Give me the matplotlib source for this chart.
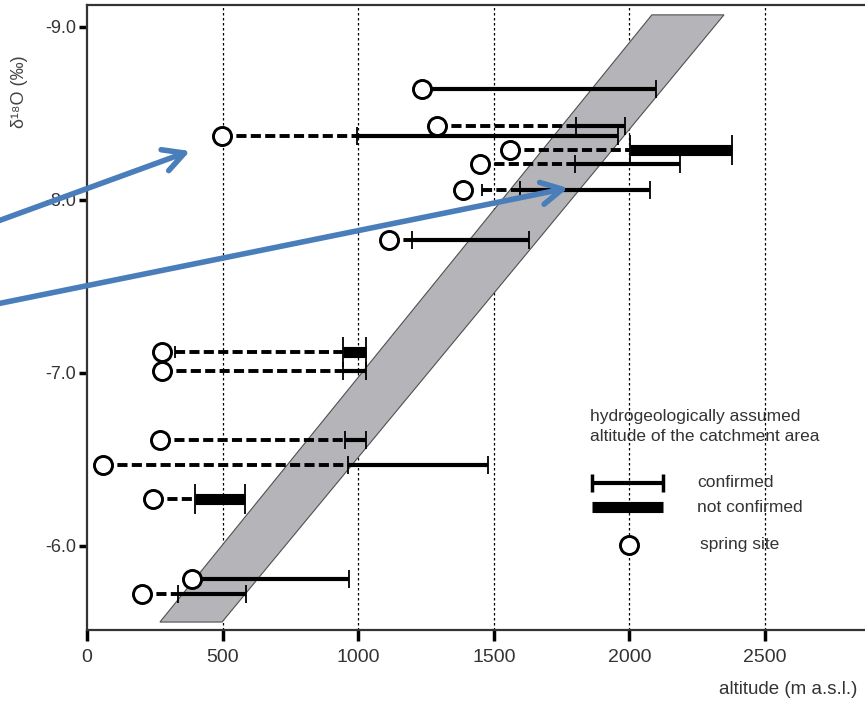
import numpy as np
import matplotlib.pyplot as plt
from matplotlib.patches import Polygon

plt.rcParams['font.family'] = ['Liberation Sans', 'DejaVu Sans']

# spring sites: altitude (m a.s.l.) and delta 18O (permil)
spring_alt = [1235, 1291, 498, 1560, 1449, 1386, 1114, 277, 277, 269, 59, 243, 387, 203]
spring_d18o = [-8.64, -8.43, -8.37, -8.29, -8.21, -8.06, -7.77, -7.12, -7.01, -6.61, -6.47, -6.27, -5.81, -5.72]

# dashed part (circle towards catchment), None where absent
dash_from = [None, 1291, 498, 1560, 1449, 1457, 1114, 325, 277, 269, 59, 243, None, 203]
dash_to = [None, 1805, 995, 2002, 1800, 1597, 1200, 944, 944, 951, 962, 398, None, 336]

# hydrogeologically assumed catchment altitude
catch_from = [1235, 1805, 995, 2002, 1800, 1597, 1200, 944, 944, 951, 962, 398, 387, 336]
catch_to = [2098, 1985, 1958, 2378, 2187, 2076, 1630, 1029, 1029, 1029, 1479, 583, 966, 586]
confirmed = [True, True, True, False, True, True, True, False, True, True, True, False, True, True]

# grey band
band_alt = [269, 498, 2349, 2083]
band_d18o = [-5.56, -5.56, -9.07, -9.07]

fig = plt.figure(figsize=(8.65, 7.01), dpi=100)
ax = fig.add_axes([87 / 865, 1 - 630 / 701, 1 - 87 / 865, 625 / 701])

ax.set_xlim(0, 2869)
ax.set_ylim(-5.514, -9.127)

band = Polygon(np.column_stack([band_alt, band_d18o]), closed=True,
               facecolor='#b5b5b9', edgecolor='#505050', lw=0.8, zorder=1)
ax.add_patch(band)

for gx in [500, 1000, 1500, 2000, 2500]:
    ax.axvline(gx, color='black', lw=0.9, ls=(0, (2, 2)), zorder=0.5)

for i in range(len(spring_alt)):
    y = spring_d18o[i]
    if dash_from[i] is not None:
        ax.plot([dash_from[i], dash_to[i]], [y, y], color='black', lw=2.8,
                ls=(0, (2.6, 1.1)), zorder=3, solid_capstyle='butt', dash_capstyle='butt')
        if dash_from[i] > spring_alt[i]:
            ax.plot([dash_from[i]], [y], marker='|', color='black', ms=9, mew=1.3, zorder=3)
    if confirmed[i]:
        ax.plot([catch_from[i], catch_to[i]], [y, y], color='black', lw=3.0,
                solid_capstyle='butt', zorder=3)
        tick = 13
    else:
        ax.plot([catch_from[i], catch_to[i]], [y, y], color='black', lw=8,
                solid_capstyle='butt', zorder=3)
        tick = 22
    ax.plot([catch_from[i], catch_to[i]], [y, y], ls='none', marker='|',
            color='black', ms=tick, mew=1.3, zorder=3)

ax.plot(spring_alt, spring_d18o, ls='none', marker='o', ms=13,
        mfc='white', mec='black', mew=2.1, zorder=5)

# legend drawn by hand
ax.text(1855, -6.69, 'hydrogeologically assumed\naltitude of the catchment area',
        fontsize=12.5, color='#333333', va='center', ha='left', linespacing=1.45)
ax.plot([1862, 2125], [-6.364, -6.364], color='black', lw=3.0, solid_capstyle='butt')
ax.plot([1862, 2125], [-6.364, -6.364], ls='none', marker='|', color='black', ms=13, mew=2.5)
ax.plot([1862, 2125], [-6.225, -6.225], color='black', lw=8, solid_capstyle='butt')
ax.plot([2000], [-6.006], ls='none', marker='o', ms=13, mfc='white', mec='black', mew=2.1)
ax.text(2249, -6.364, 'confirmed', fontsize=12.5, color='#333333', va='center')
ax.text(2249, -6.225, 'not confirmed', fontsize=12.5, color='#333333', va='center')
ax.text(2260, -6.006, 'spring site', fontsize=12.5, color='#333333', va='center')

ax.set_xticks([0, 500, 1000, 1500, 2000, 2500])
ax.set_yticks([-9.0, -8.0, -7.0, -6.0])
ax.set_yticklabels(['-9.0', '-8.0', '-7.0', '-6.0'])
ax.tick_params(axis='x', direction='out', length=8, width=2.5, labelsize=14,
               labelcolor='#333333', pad=6)
ax.tick_params(axis='y', direction='out', length=6, width=2.5, labelsize=13,
               labelcolor='#333333', pad=2)

for side in ['left', 'bottom', 'top']:
    ax.spines[side].set_color('#333333')
    ax.spines[side].set_linewidth(1.6)
ax.spines['right'].set_visible(False)

fig.text(20 / 865, 1 - 92 / 701, 'δ¹⁸O (‰)', rotation=90, fontsize=13,
         color='#444444', ha='center', va='center')
fig.text(788 / 865, 1 - 690 / 701, 'altitude (m a.s.l.)', fontsize=13.5,
         color='#333333', ha='center', va='center')

# blue arrows
arrow_style = dict(arrowstyle='->,head_length=1.5,head_width=0.8', color='#4a7ebb',
                   lw=4.0, shrinkA=0, shrinkB=0)
ax.annotate('', xy=(380, -8.283), xytext=(-360, -7.86),
            arrowprops=arrow_style, annotation_clip=False)
ax.annotate('', xy=(1774, -8.069), xytext=(-360, -7.39),
            arrowprops=arrow_style, annotation_clip=False)

fig.savefig('out.png', dpi=100)
